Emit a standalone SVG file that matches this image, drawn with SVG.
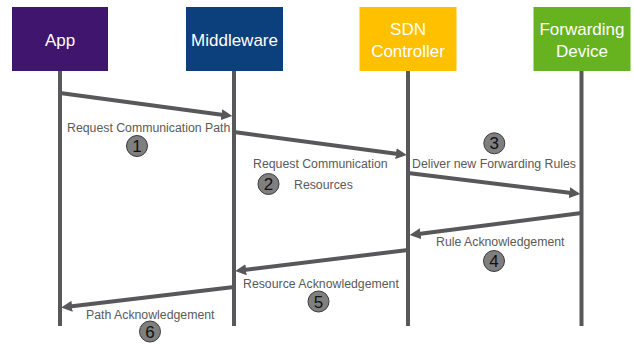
<svg xmlns="http://www.w3.org/2000/svg" width="635" height="345" viewBox="0 0 635 345">
<style>
.box text{fill:#fff;font-family:"Liberation Sans",Arial,sans-serif;font-size:17px;text-anchor:middle}
.life{stroke:#58585b;stroke-width:4}
.msg{stroke:#58585b;stroke-width:4;fill:none;marker-end:url(#ah)}
.lbl{fill:#5a5a5a;font-family:"Liberation Sans",Arial,sans-serif;font-size:12.3px}
.num circle{fill:#7f7f7f;stroke:#3a3a3a;stroke-width:1}
.num text{fill:#111;font-family:"Liberation Sans",Arial,sans-serif;font-size:17px;text-anchor:middle}
</style>
<defs>
<marker id="ah" markerUnits="userSpaceOnUse" markerWidth="11" markerHeight="11" refX="2" refY="5" orient="auto" viewBox="0 0 10 10">
<path d="M0,0 L10,5 L0,10 z" fill="#58585b"/>
</marker>
</defs>
<rect width="635" height="345" fill="#fff"/>
<g id="lifelines">
<line class="life" x1="60" y1="71" x2="60" y2="326"/>
<line class="life" x1="234" y1="71" x2="234" y2="326"/>
<line class="life" x1="408" y1="71" x2="408" y2="326"/>
<line class="life" x1="581.5" y1="71" x2="581.5" y2="326"/>
</g>
<g id="node-app" class="box">
<rect x="12" y="7" width="96" height="64" fill="#3f156d"/>
<text x="60" y="46">App</text>
</g>
<g id="node-middleware" class="box">
<rect x="186" y="7" width="97" height="64" fill="#0b407c"/>
<text x="234.5" y="46">Middleware</text>
</g>
<g id="node-sdn" class="box">
<rect x="359.5" y="7" width="97" height="64" fill="#ffc000"/>
<text x="408" y="35">SDN</text>
<text x="408" y="57">Controller</text>
</g>
<g id="node-fd" class="box">
<rect x="533.5" y="7" width="97" height="64" fill="#67b21f"/>
<text x="582" y="35">Forwarding</text>
<text x="582" y="57">Device</text>
</g>
<g id="connectors">
<line class="msg" x1="60" y1="93" x2="223.6" y2="114.9"/>
<line class="msg" x1="234" y1="132" x2="398.1" y2="153.9"/>
<line class="msg" x1="408" y1="173" x2="571.6" y2="193"/>
<line class="msg" x1="581.5" y1="213" x2="418.4" y2="234"/>
<line class="msg" x1="408" y1="250" x2="243.9" y2="270"/>
<line class="msg" x1="234" y1="287" x2="69.9" y2="306.5"/>
</g>
<g id="labels">
<text class="lbl" x="67" y="131.5">Request Communication Path</text>
<text class="lbl" x="253" y="168">Request Communication</text>
<text class="lbl" x="294" y="188.5">Resources</text>
<text class="lbl" x="412" y="168">Deliver new Forwarding Rules</text>
<text class="lbl" x="436" y="246">Rule Acknowledgement</text>
<text class="lbl" x="243" y="288">Resource Acknowledgement</text>
<text class="lbl" x="86" y="318.5">Path Acknowledgement</text>
</g>
<g id="step-1" class="num"><circle cx="137" cy="146" r="10.5"/><text x="137" y="152">1</text></g>
<g id="step-2" class="num"><circle cx="268.5" cy="184" r="10.5"/><text x="268.5" y="190">2</text></g>
<g id="step-3" class="num"><circle cx="494.3" cy="143.3" r="10.5"/><text x="494.3" y="149.3">3</text></g>
<g id="step-4" class="num"><circle cx="494" cy="261" r="10.5"/><text x="494" y="267">4</text></g>
<g id="step-5" class="num"><circle cx="318.5" cy="301.5" r="10.5"/><text x="318.5" y="307.5">5</text></g>
<g id="step-6" class="num"><circle cx="150" cy="331.5" r="10.5"/><text x="150" y="337.5">6</text></g>
</svg>
